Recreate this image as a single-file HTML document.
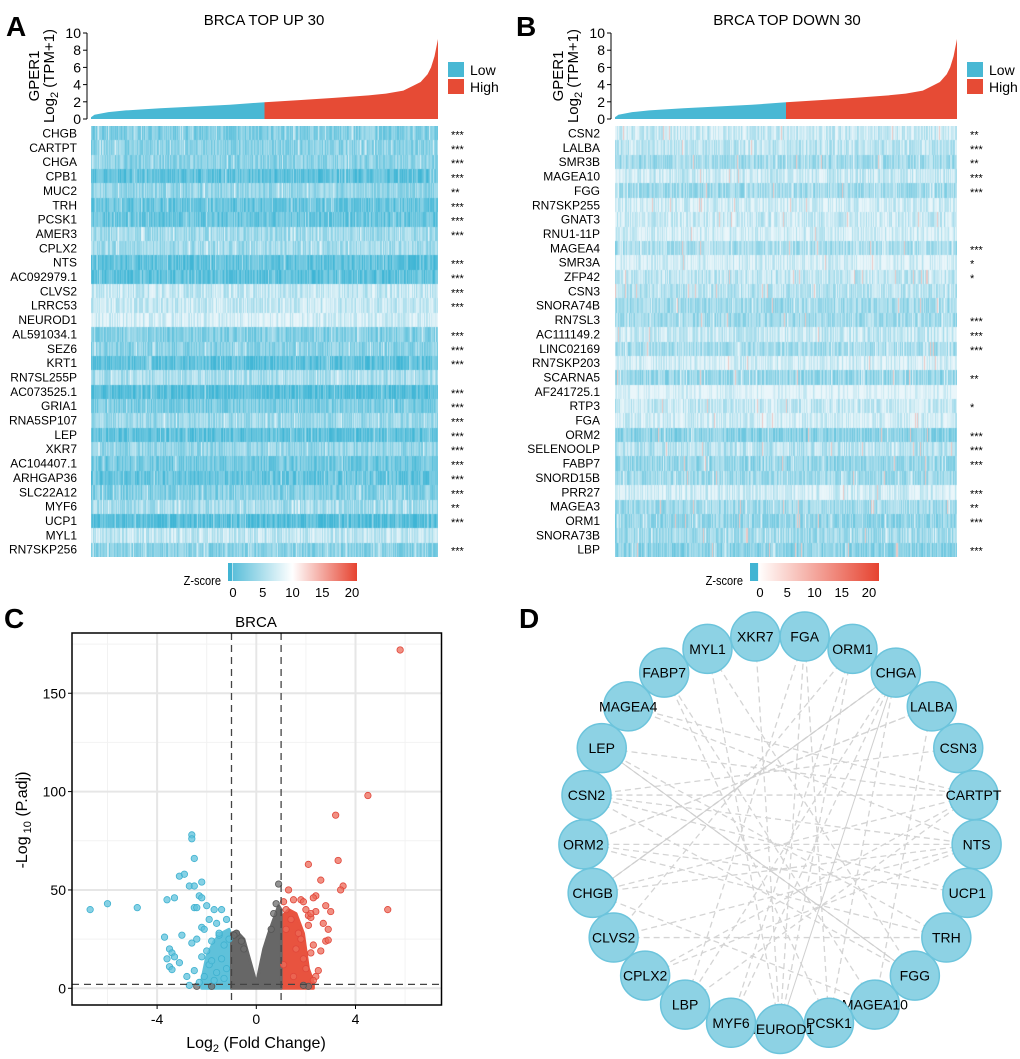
<!DOCTYPE html>
<html><head><meta charset="utf-8">
<style>
html,body{margin:0;padding:0;background:#fff;}
#wrap{position:relative;width:1020px;height:1059px;overflow:hidden;font-family:"Liberation Sans",Arial,sans-serif;}
canvas{position:absolute;}
svg{position:absolute;left:0;top:0;}
</style></head>
<body>
<div id="wrap">
<canvas id="hmA" width="347" height="431" style="left:91px;top:126px"></canvas>
<canvas id="hmB" width="342" height="431" style="left:615px;top:126px"></canvas>
<svg id="svg" width="1020" height="1059" xmlns="http://www.w3.org/2000/svg"></svg>
</div>
<script>
// ---------- DATA ----------
const genesA = ["CHGB","CARTPT","CHGA","CPB1","MUC2","TRH","PCSK1","AMER3","CPLX2","NTS","AC092979.1","CLVS2","LRRC53","NEUROD1","AL591034.1","SEZ6","KRT1","RN7SL255P","AC073525.1","GRIA1","RNA5SP107","LEP","XKR7","AC104407.1","ARHGAP36","SLC22A12","MYF6","UCP1","MYL1","RN7SKP256"];
const starsA = ["***","***","***","***","**","***","***","***","","***","***","***","***","","***","***","***","","***","***","***","***","***","***","***","***","**","***","","***"];
const levelA = [0.6,0.55,0.55,0.8,0.5,0.75,0.75,0.42,0.42,0.8,0.8,0.22,0.22,0.12,0.6,0.55,0.8,0.38,0.85,0.65,0.45,0.8,0.5,0.7,0.75,0.6,0.4,0.85,0.25,0.55];
const genesB = ["CSN2","LALBA","SMR3B","MAGEA10","FGG","RN7SKP255","GNAT3","RNU1-11P","MAGEA4","SMR3A","ZFP42","CSN3","SNORA74B","RN7SL3","AC111149.2","LINC02169","RN7SKP203","SCARNA5","AF241725.1","RTP3","FGA","ORM2","SELENOOLP","FABP7","SNORD15B","PRR27","MAGEA3","ORM1","SNORA73B","LBP"];
const starsB = ["**","***","**","***","***","","","","***","*","*","","","***","***","***","","**","","*","","***","***","***","","***","**","***","","***"];
const levelB = [0.2,0.26,0.42,0.2,0.42,0.15,0.2,0.15,0.38,0.12,0.26,0.3,0.42,0.42,0.22,0.38,0.15,0.48,0.06,0.22,0.15,0.55,0.3,0.5,0.42,0.15,0.42,0.5,0.42,0.55];
const gperPct = [0,0.01,0.05,0.1,0.2,0.3,0.4,0.5,0.6,0.7,0.8,0.85,0.9,0.93,0.95,0.97,0.98,0.99,1];
const gperVal = [0.2,0.5,0.8,1.0,1.25,1.45,1.65,1.95,2.2,2.45,2.75,2.95,3.3,3.9,4.3,5.2,6.0,7.3,9.3];
const gperTicks = [0,2,4,6,8,10];
const zTicks = [0,5,10,15,20];

const volXTicks = [-4,0,4];
const volYTicks = [0,50,100,150];
const blueX = [-6.7,-6,-4.8,-3.6,-3.3,-3,-3.1,-2.9,-2.6,-2.6,-2.5,-2.7,-2.5,-2.2,-2.3,-2.2,-2.5,-2.4,-2,-1.7,-1.4,-1.9,-1.6,-1.2,-3.7,-3.5,-3.4,-3.3,-3.6,-3.5,-3.4,-3.1,-2.8,-2.7,-2.5,-2.2,-2.6,-2.4,-2.2,-2.1,-1.8,-1.5,-1.3,-2.0,-1.9,-1.6,-1.4,-1.2,-1.1,-1.7,-2.1,-2.3,-1.5,-1.3,-1.8];
const blueY = [40,43,41,45,46,27,57,58,78,76,66,52,52,54,47,46,41,41,42,40,40,35,33,35,26,20,18,16,15,11,9.5,13,6,1.5,9,16,23,25,31,30,24,27,22,19,12,8,15,10,25,4,6,3,28,5,14];
const redX = [5.8,4.5,3.2,3.3,2.6,2.1,3.5,3.4,5.3,2.4,2.3,2.8,3.0,2.4,2.1,2.2,2.7,2.9,2.8,2.9,2.6,2.3,2.5,2.4,2.3,1.3,1.5,1.8,1.9,2.0,2.2,1.1,1.2,2.1,1.7,1.6,1.4,1.9,2.0,1.2,1.5,1.8,2.2,1.1];
const redY = [172,98,88,65,55,63,52,50,40,47,46,42,39,39,37,36,33,30,24,24.5,19,22,9,6,4,50,45,45,44,40,38,44,40,32,28,20,35,15,10,30,6,25,18,12];
const grayX = [0.9,-0.8,0.8,-0.9,-2.4,-1.8,2.1,1.9,0.6,-0.6,0.7,-0.5];
const grayY = [53,28,43,27,1,1,1,1.5,30,24,38,20];
const grayEnvX = [-1,-0.8,-0.5,-0.3,-0.1,0,0.1,0.3,0.5,0.7,0.9,1];
const grayEnvY = [28,29,25,16,7,2,8,20,28,35,42,40];
const blueEnvX = [-2.2,-2,-1.7,-1.4,-1.1,-1];
const blueEnvY = [4,16,24,28,30,26];
const redEnvX = [1,1.3,1.6,1.9,2.1,2.3];
const redEnvY = [36,40,38,28,10,3];

const nodes = ["XKR7","FGA","ORM1","CHGA","LALBA","CSN3","CARTPT","NTS","UCP1","TRH","FGG","MAGEA10","PCSK1","NEUROD1","MYF6","LBP","CPLX2","CLVS2","CHGB","ORM2","CSN2","LEP","MAGEA4","FABP7","MYL1"];
const edgeFrom = ["LEP","LEP","CHGB","CHGB","CSN2","CSN2","ORM2","ORM2","XKR7","FGA","FGA","ORM1","ORM1","CHGA","CHGA","LALBA","CSN3","CARTPT","CARTPT","NTS","NTS","UCP1","TRH","FGG","MAGEA10","PCSK1","NEUROD1","NEUROD1","MYF6","LBP","CPLX2","CLVS2","MAGEA4","FABP7","MYL1","CHGB","CSN2","ORM2","LALBA","TRH"];
const edgeTo   = ["FGG","CARTPT","CHGA","NTS","NTS","CARTPT","NTS","UCP1","NEUROD1","PCSK1","LBP","CLVS2","MYF6","CHGB","LBP","ORM2","CSN2","CHGB","CPLX2","CLVS2","MAGEA4","CSN2","LEP","MYL1","FABP7","CHGA","FGA","ORM1","CHGA","CARTPT","NTS","TRH","CARTPT","PCSK1","NEUROD1","MAGEA10","FGG","LALBA","MAGEA10","ORM2"];
const solidFrom = ["LEP","CHGB","CHGA"];
const solidTo   = ["FGG","CHGA","NEUROD1"];

// ---------- HELPERS ----------
const NS="http://www.w3.org/2000/svg";
const svg=document.getElementById('svg');
function mk(tag,attrs,parent){const e=document.createElementNS(NS,tag);for(const k in attrs)e.setAttribute(k,attrs[k]);(parent||svg).appendChild(e);return e;}
function txt(x,y,s,size,anchor,extra,parent){const e=mk('text',Object.assign({x:x,y:y,'font-size':size,'text-anchor':anchor||'start','font-family':'Liberation Sans, Arial, sans-serif',fill:'#000'},extra||{}),parent);e.textContent=s;return e;}
function hash(i,j,s){const v=Math.sin(i*12.9898+j*78.233+s*37.719)*43758.5453;return v-Math.floor(v);}

// ---------- HEATMAPS ----------
const light=[234,246,250], dark=[62,181,213];
function drawHeat(id,levels,seed,reds){
  const c=document.getElementById(id),ctx=c.getContext('2d');
  const W=c.width,rowH=431/30;
  levels.forEach((lv,r)=>{
    const y0=Math.round(r*rowH),y1=Math.round((r+1)*rowH);
    for(let x=0;x<W;x++){
      let h=hash(x,r,seed),t=lv+(h-0.5)*0.45;
      if(hash(x,r,seed+3)>0.93)t-=0.3;
      t=Math.max(0,Math.min(1,t));
      let col=[0,1,2].map(k=>Math.round(light[k]+(dark[k]-light[k])*t));
      if(reds&&hash(x,r,seed+7)>0.985)col=[236,200,196];
      ctx.fillStyle='rgb('+col.join(',')+')';
      ctx.fillRect(x,y0,1,y1-y0);
    }
  });
}
drawHeat('hmA',levelA,1,false);
drawHeat('hmB',levelB,2,true);

function heatPanel(letter,lx,title,tx,x0,x1,genes,stars,labX,starX,legX,cbX){
  const g=mk('g',{});
  
  
  const L=txt(lx,36,letter,28,'start',{'font-weight':'bold'},g);
  
  
  const T=txt(tx,25,title,15,'middle',{},g);
  
  
  const y0=119,y10=33,ys=v=>y0+(y10-y0)*v/10,xs=p=>x0+(x1-x0)*p;
  const ax=mk('line',{x1:x0-4,x2:x0-4,y1:ys(0),y2:ys(10),stroke:'#000','stroke-width':1},g);
  
  
  gperTicks.forEach(v=>{mk('line',{x1:x0-8,x2:x0-4,y1:ys(v),y2:ys(v),stroke:'#000'},g);
    const tt=txt(x0-10,ys(v)+5,String(v),14,'end',{},g);
    
    });
  const yt=txt(0,0,'GPER1',15,'middle',{transform:'translate('+(x0-52)+',76) rotate(-90)'},g);
  
  
  const yt2=mk('text',{transform:'translate('+(x0-37)+',76) rotate(-90)','font-size':15,'text-anchor':'middle','font-family':'Liberation Sans, Arial, sans-serif'},g);
  yt2.innerHTML='Log<tspan font-size="11" dy="4">2</tspan><tspan dy="-4"> (TPM+1)</tspan>';
  
  
  const split=gperPct.indexOf(0.5);
  function area(a,b,col,name){let d='M'+xs(gperPct[a])+','+ys(0);for(let i=a;i<=b;i++)d+=' L'+xs(gperPct[i])+','+ys(gperVal[i]);d+=' L'+xs(gperPct[b])+','+ys(0)+'Z';
    const p=mk('path',{d:d,fill:col},g);}
  area(0,split,'#48b8d4','gper1-low-area');
  area(split,gperPct.length-1,'#e64b35','gper1-high-area');
  const lg=mk('g',{},g);
  mk('rect',{x:legX,y:62,width:16,height:15,fill:'#48b8d4'},lg);
  mk('rect',{x:legX,y:79,width:16,height:15,fill:'#e64b35'},lg);
  txt(legX+22,75,'Low',14,'start',{},lg);
  txt(legX+22,92,'High',14,'start',{},lg);
  genes.forEach((gn,i)=>{const y=133+i*14.35+4.5;
    const t=txt(labX,y,gn,12,'end',{},g);
    if(stars[i]){const s=txt(starX,y+1,stars[i],11,'start',{},g);}});
  const cb=mk('g',{},g);
  const gid='grad'+letter;
  const defs=mk('defs',{},cb);const lgd=mk('linearGradient',{id:gid,x1:0,x2:1,y1:0,y2:0},defs);
  if(letter==='A'){[['0','#41b4d3'],['0.03','#41b4d3'],['0.035','#fff'],['0.04','#5cbfda'],['0.5','#ffffff'],['1','#e64330']].forEach(s=>mk('stop',{offset:s[0],'stop-color':s[1]},lgd));}
  else{[['0','#41b4d3'],['0.06','#41b4d3'],['0.065','#ffffff'],['0.1','#fff8f6'],['1','#e64330']].forEach(s=>mk('stop',{offset:s[0],'stop-color':s[1]},lgd));}
  mk('rect',{x:cbX,y:563,width:129,height:18,fill:'url(#'+gid+')'},cb);
  txt(cbX-7,585,'Z-score',13,'end',{transform:'scale(0.85,1) translate('+((cbX-7)*0.1765)+',0)'},cb);
  const z0=letter==='A'?cbX+5:cbX+10,z20=letter==='A'?cbX+124:cbX+119;
  zTicks.forEach(v=>{txt(z0+(z20-z0)*v/20,597,String(v),13,'middle',{},cb);});
}
heatPanel('A',6,'BRCA TOP UP 30',264,91,438,genesA,starsA,77,451,448,228);
heatPanel('B',516,'BRCA TOP DOWN 30',787,615,957,genesB,starsB,600,970,967,750);

// ---------- VOLCANO ----------
(function(){
  const g=mk('g',{});
  const L=txt(4,628,'C',28,'start',{'font-weight':'bold'},g);
  const px0=72,px1=441.5,py0=633,py1=1005;
  const xs=v=>256.3+v*24.8, ys=v=>988.3-v*1.967;
  mk('rect',{x:px0,y:py0,width:px1-px0,height:py1-py0,fill:'#fff'},g);
  const grid=mk('g',{},g);
  [-6,-2,2,6].forEach(v=>mk('line',{x1:xs(v),x2:xs(v),y1:py0,y2:py1,stroke:'#f2f2f2','stroke-width':1},grid));
  [25,75,125,175].forEach(v=>mk('line',{x1:px0,x2:px1,y1:ys(v),y2:ys(v),stroke:'#f2f2f2','stroke-width':1},grid));
  volXTicks.forEach(v=>mk('line',{x1:xs(v),x2:xs(v),y1:py0,y2:py1,stroke:'#e6e6e6','stroke-width':2},grid));
  volYTicks.forEach(v=>mk('line',{x1:px0,x2:px1,y1:ys(v),y2:ys(v),stroke:'#e6e6e6','stroke-width':2},grid));
  function env(X,Y,col,name){let d='M'+xs(X[0])+','+ys(0);X.forEach((x,i)=>d+=' L'+xs(x)+','+ys(Y[i]));d+=' L'+xs(X[X.length-1])+','+ys(0)+'Z';
    const p=mk('path',{d:d,fill:col,stroke:col,'stroke-width':3,'stroke-linejoin':'round'},g);}
  env(blueEnvX,blueEnvY,'#5fc1da','down-dense-cloud');
  env(redEnvX,redEnvY,'#e8533f','up-dense-cloud');
  env(grayEnvX,grayEnvY,'#676767','ns-dense-cloud');
  function pts(X,Y,fill,stroke,name){X.forEach((x,i)=>{const c=mk('circle',{cx:xs(x),cy:ys(Y[i]),r:3.2,fill:fill,'fill-opacity':0.75,stroke:stroke,'stroke-width':0.8},g);
    });}
  pts(grayX,grayY,'#6e6e6e','#555','ns-point');
  pts(blueX,blueY,'#5ec2dc','#3fb1cf','down-point');
  pts(redX,redY,'#ec6a58','#e0463a','up-point');
  [-1,1].forEach(v=>{const l=mk('line',{x1:xs(v),x2:xs(v),y1:py0,y2:py1,stroke:'#444','stroke-width':1.3,'stroke-dasharray':'7,5'},g);});
  const hl=mk('line',{x1:px0,x2:px1,y1:ys(2),y2:ys(2),stroke:'#444','stroke-width':1.3,'stroke-dasharray':'7,5'},g);
  mk('rect',{x:px0,y:py0,width:px1-px0,height:py1-py0,fill:'none',stroke:'#000','stroke-width':1.5},g);
  volXTicks.forEach(v=>{mk('line',{x1:xs(v),x2:xs(v),y1:py1,y2:py1+4,stroke:'#000'},g);const t=txt(xs(v),py1+19,String(v),14,'middle',{},g);});
  volYTicks.forEach(v=>{mk('line',{x1:px0-4,x2:px0,y1:ys(v),y2:ys(v),stroke:'#000'},g);const t=txt(px0-6,ys(v)+5,String(v),14,'end',{},g);});
  const ti=txt(256,627,'BRCA',15,'middle',{},g);
  const xt=mk('text',{x:256,y:1048,'font-size':16,'text-anchor':'middle','font-family':'Liberation Sans, Arial, sans-serif'},g);
  xt.innerHTML='Log<tspan font-size="11" dy="4">2</tspan><tspan dy="-4"> (Fold Change)</tspan>';
  
  const yt=mk('text',{transform:'translate(27,820) rotate(-90)','font-size':16,'text-anchor':'middle','font-family':'Liberation Sans, Arial, sans-serif'},g);
  yt.innerHTML='-Log<tspan font-size="11" dy="4"> 10</tspan><tspan dy="-4"> (P.adj)</tspan>';
  
})();

// ---------- NETWORK ----------
(function(){
  const g=mk('g',{});
  const L=txt(519,628,'D',28,'start',{'font-weight':'bold'},g);
  const cx=780,cy=832,R=197,n=nodes.length;
  const pos={};
  nodes.forEach((nm,i)=>{const a=(i*360/n-7.2)*Math.PI/180;pos[nm]=[cx+R*Math.sin(a),cy-R*Math.cos(a)];});
  edgeFrom.forEach((f,i)=>{const a=pos[f],b=pos[edgeTo[i]];const l=mk('line',{x1:a[0],y1:a[1],x2:b[0],y2:b[1],stroke:'#d4d4d4','stroke-width':1.3,'stroke-dasharray':'6,4'},g);});
  solidFrom.forEach((f,i)=>{const a=pos[f],b=pos[solidTo[i]];const l=mk('line',{x1:a[0],y1:a[1],x2:b[0],y2:b[1],stroke:'#cfcfcf','stroke-width':1},g);});
  nodes.forEach(nm=>{const p=pos[nm];const ng=mk('g',{},g);
    mk('circle',{cx:p[0],cy:p[1],r:24.5,fill:'#8dd2e4',stroke:'#6cc4dc','stroke-width':1.5},ng);
    txt(p[0],p[1]+5,nm,14,'middle',{},ng);});
})();
</script>
</body></html>
